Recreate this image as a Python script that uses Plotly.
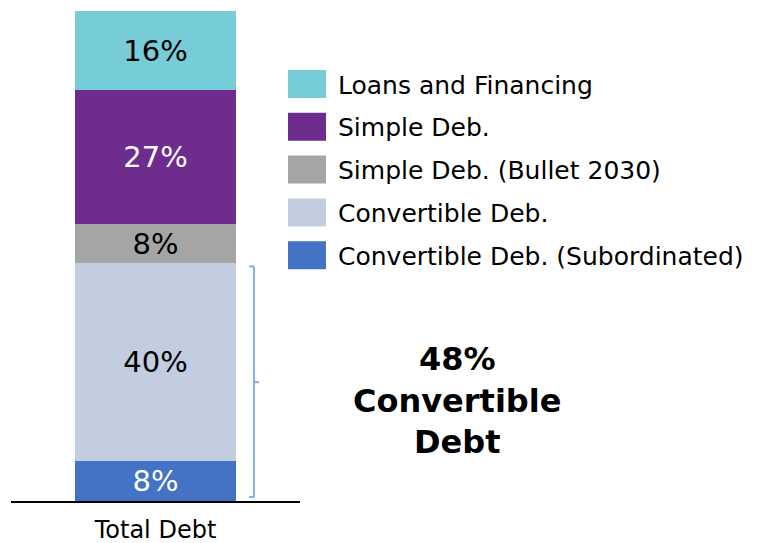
import plotly.graph_objects as go

# Debt composition (share of total debt, %), stacked bottom to top
categories = ["Total Debt"]
series_names = [
    "Convertible Deb. (Subordinated)",
    "Convertible Deb.",
    "Simple Deb. (Bullet 2030)",
    "Simple Deb.",
    "Loans and Financing",
]
series_values = [8, 40, 8, 27, 16]
series_colors = ["#4472C4", "#C3CDE0", "#A5A5A5", "#6F2C8F", "#77CDD7"]
label_colors = ["#FFFFFF", "#000000", "#000000", "#FFFFFF", "#000000"]
legend_order = [4, 3, 2, 1, 0]
convertible_share = series_values[0] + series_values[1]

W, H = 758, 543
M_L, M_R, M_T, M_B = 0, 0, 11, 42
FONT = "DejaVu Sans"


def px_x(px):
    return (px - M_L) / (W - M_L - M_R)


def px_y(py):
    return 1 - (py - M_T) / (H - M_T - M_B)


fig = go.Figure()
for name, val, col, lc in zip(series_names, series_values, series_colors, label_colors):
    fig.add_trace(go.Bar(
        x=categories, y=[val], name=name,
        marker=dict(color=col, line=dict(width=0)),
        width=0.56,
        text=[f"{val}%"], textposition="inside", insidetextanchor="middle",
        constraintext="none",
        textfont=dict(family=FONT, size=29, color=lc),
        showlegend=False, hoverinfo="name+y",
    ))

shapes = []
annotations = []

# legend: swatch + label, top to bottom
for row, idx in enumerate(legend_order):
    cy = 84 + row * 42.8
    shapes.append(dict(type="rect", xref="paper", yref="paper",
                       x0=px_x(288), x1=px_x(326), y0=px_y(cy + 14), y1=px_y(cy - 14),
                       fillcolor=series_colors[idx], line=dict(width=0)))
    annotations.append(dict(xref="paper", yref="paper", x=px_x(336), y=px_y(cy + 1),
                            xanchor="left", yanchor="middle", showarrow=False,
                            text=series_names[idx],
                            font=dict(family=FONT, size=25, color="#000000")))

# bracket around the convertible segments
bc = "#7CB4EA"
bx = px_x(254)
y_lo, y_hi = 0.8, convertible_share - 0.6
shapes += [
    dict(type="line", xref="paper", yref="y", x0=bx, x1=bx, y0=y_lo, y1=y_hi, line=dict(color=bc, width=2)),
    dict(type="line", xref="paper", yref="y", x0=px_x(249), x1=bx, y0=y_hi, y1=y_hi, line=dict(color=bc, width=2)),
    dict(type="line", xref="paper", yref="y", x0=px_x(249), x1=bx, y0=y_lo, y1=y_lo, line=dict(color=bc, width=2)),
    dict(type="line", xref="paper", yref="y", x0=bx, x1=px_x(259), y0=convertible_share / 2, y1=convertible_share / 2,
         line=dict(color=bc, width=2)),
]

annotations.append(dict(xref="paper", yref="paper", x=px_x(457), y=px_y(400),
                        xanchor="center", yanchor="middle", showarrow=False,
                        text=f"<b>{convertible_share}%<br>Convertible<br>Debt</b>",
                        font=dict(family=FONT, size=32, color="#000000")))

fig.update_layout(
    width=W, height=H,
    margin=dict(l=M_L, r=M_R, t=M_T, b=M_B, autoexpand=False),
    barmode="stack",
    plot_bgcolor="white", paper_bgcolor="white",
    shapes=shapes, annotations=annotations,
    xaxis=dict(domain=[px_x(11), px_x(300)], range=[-0.5, 0.5],
               showline=True, linecolor="#000000", linewidth=2,
               showgrid=False, zeroline=False, ticks="", automargin=False,
               ticklabelstandoff=6,
               tickfont=dict(family=FONT, size=24, color="#000000")),
    yaxis=dict(range=[0, sum(series_values)], visible=False, showgrid=False, zeroline=False,
               automargin=False),
)

fig.write_html("out.html")
